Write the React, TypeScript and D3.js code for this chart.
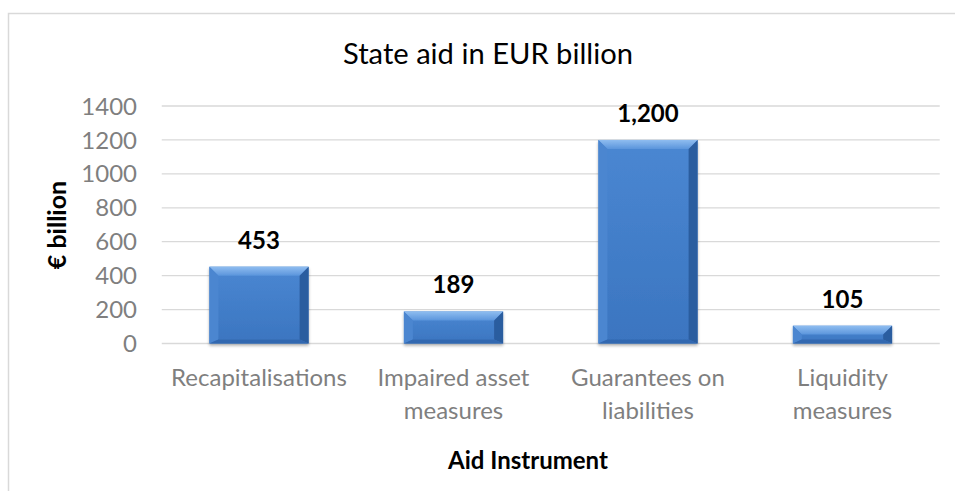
import React from "react";
import * as d3 from "d3";

const categories: string[][] = [
  ["Recapitalisations"],
  ["Impaired asset", "measures"],
  ["Guarantees on", "liabilities"],
  ["Liquidity", "measures"],
];
const values: number[] = [453, 189, 1200, 105];
const valueLabels: string[] = ["453", "189", "1,200", "105"];
const yTicks: number[] = [0, 200, 400, 600, 800, 1000, 1200, 1400];
const chartTitle = "State aid in EUR billion";
const xTitle = "Aid Instrument";
const yTitle = "€ billion";

const W = 955;
const H = 491;
const FONT = "Lato, 'Open Sans', sans-serif";

export default function App() {
  const x = d3
    .scaleBand<number>()
    .domain(d3.range(values.length))
    .range([161.75, 939.75])
    .paddingInner(0.49)
    .paddingOuter(0.245);
  const y = d3.scaleLinear().domain([0, 1400]).range([343.5, 106]);
  const bw = x.bandwidth();

  return (
    <div style={{ position: "absolute", left: 0, top: 0, width: W, height: H, overflow: "hidden", background: "#fff" }}>
      <svg width={W} height={H} style={{ display: "block" }}>
        <defs>
          <linearGradient id="face" x1="0" y1="0" x2="0" y2="1">
            <stop offset="0" stopColor="#4a87d2" />
            <stop offset="1" stopColor="#3b75c0" />
          </linearGradient>
          <linearGradient id="topBev" x1="0" y1="0" x2="0" y2="1">
            <stop offset="0" stopColor="#8fbdf0" />
            <stop offset="1" stopColor="#5b95dc" />
          </linearGradient>
          <filter id="sh" x="-10%" y="-10%" width="120%" height="130%">
            <feGaussianBlur in="SourceAlpha" stdDeviation="1.5" />
            <feOffset dx="0" dy="1.5" result="b" />
            <feComponentTransfer><feFuncA type="linear" slope="0.3" /></feComponentTransfer>
            <feMerge><feMergeNode /><feMergeNode in="SourceGraphic" /></feMerge>
          </filter>
        </defs>
        {/* chart border */}
        <rect x={8.5} y={13.5} width={W + 20} height={H + 20} fill="#fff" stroke="#d9d9d9" strokeWidth={1.5} />
        {/* title */}
        <text x={488} y={64} textAnchor="middle" fontFamily={FONT} fontSize={29} fill="#000" textLength={290} lengthAdjust="spacingAndGlyphs">
          {chartTitle}
        </text>
        {/* gridlines */}
        {yTicks.map((t) => (
          <line key={t} x1={161.75} x2={939.75} y1={y(t)} y2={y(t)} stroke="#d9d9d9" strokeWidth={1.3} />
        ))}
        {/* y tick labels */}
        {yTicks.map((t) => (
          <text key={"l" + t} x={137} y={y(t)} dy="0.36em" textAnchor="end" fontFamily={FONT} fontSize={24} fill="#7f7f7f">
            {t}
          </text>
        ))}
        {/* bars */}
        {values.map((v, i) => {
          const x0 = x(i)!;
          const x1 = x0 + bw;
          const y0 = y(v);
          const y1 = y(0);
          const h = y1 - y0;
          const b = Math.min(9, h / 2);
          const bb = Math.min(4, h / 3);
          return (
            <g key={i} filter="url(#sh)">
              <rect x={x0} y={y0} width={bw} height={h} fill="url(#face)" />
              <polygon points={`${x0},${y0} ${x1},${y0} ${x1 - b},${y0 + b} ${x0 + b},${y0 + b}`} fill="url(#topBev)" />
              <polygon points={`${x0},${y0} ${x0 + b},${y0 + b} ${x0 + b},${y1 - bb} ${x0},${y1}`} fill="#4c86d0" />
              <polygon points={`${x1},${y0} ${x1 - b},${y0 + b} ${x1 - b},${y1 - bb} ${x1},${y1}`} fill="#2c5d9f" />
              <polygon points={`${x0},${y1} ${x0 + b},${y1 - bb} ${x1 - b},${y1 - bb} ${x1},${y1}`} fill="#3368b0" />
            </g>
          );
        })}
        {/* value labels */}
        {values.map((v, i) => (
          <text key={"v" + i} x={x(i)! + bw / 2} y={y(v) - 18} textAnchor="middle" fontFamily={FONT} fontWeight="bold" fontSize={24} fill="#000">
            {valueLabels[i]}
          </text>
        ))}
        {/* category labels */}
        {categories.map((lines, i) =>
          lines.map((ln, j) => (
            <text key={"c" + i + j} x={x(i)! + bw / 2} y={386 + j * 33} textAnchor="middle" fontFamily={FONT} fontSize={24} fill="#7f7f7f">
              {ln}
            </text>
          ))
        )}
        {/* x axis title */}
        <text x={528} y={469} textAnchor="middle" fontFamily={FONT} fontWeight="bold" fontSize={24} fill="#000">
          {xTitle}
        </text>
        {/* y axis title */}
        <text transform="translate(66,225) rotate(-90)" textAnchor="middle" fontFamily={FONT} fontWeight="bold" fontSize={25} fill="#000">
          {yTitle}
        </text>
      </svg>
    </div>
  );
}
